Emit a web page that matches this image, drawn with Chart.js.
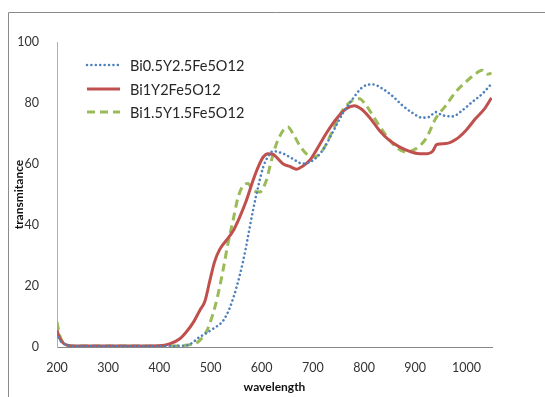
<!DOCTYPE html>
<html>
<head>
<meta charset="utf-8">
<script src="https://cdn.jsdelivr.net/npm/chart.js@4/dist/chart.umd.min.js"></script>
<style>
  html, body { margin: 0; padding: 0; background: #fff; }
  #wrap { width: 545px; height: 397px; position: relative; }
</style>
</head>
<body>
<div id="wrap"><canvas id="c" width="545" height="397"></canvas></div>
<script>
// ---- data ----
const seriesNames = ['Bi0.5Y2.5Fe5O12', 'Bi1Y2Fe5O12', 'Bi1.5Y1.5Fe5O12'];

const blueX = [200, 205, 212, 220, 235, 300, 400, 453, 479, 505, 525, 538, 551, 564, 573, 583, 593, 603, 612, 622, 642, 661, 680, 700, 719, 739, 758, 778, 797, 817, 836, 856, 875, 895, 914, 927, 940, 953, 973, 992, 1011, 1031, 1049];
const blueY = [4.5, 2.5, 1.2, 0.6, 0.3, 0.3, 0.3, 0.5, 3.3, 6, 8.7, 13, 19.7, 28.4, 36, 44.8, 52.5, 59, 62.3, 64.2, 63.4, 61.7, 60.1, 61.2, 64.5, 70.5, 76.5, 81.4, 85.2, 86.1, 84.7, 82.2, 79.2, 76.7, 75.2, 75.4, 77, 76, 75.6, 77.6, 80.3, 83, 86.3];

const redX = [200, 205, 212, 220, 235, 300, 400, 420, 440, 453, 466, 479, 489, 499, 508, 518, 531, 544, 557, 570, 583, 593, 603, 612, 622, 632, 642, 655, 668, 680, 694, 706, 726, 745, 765, 781, 794, 810, 830, 849, 869, 888, 908, 924, 934, 942, 960, 979, 999, 1018, 1034, 1049];
const redY = [5.5, 3, 1.3, 0.6, 0.3, 0.3, 0.4, 1, 2.7, 5, 8, 12, 15, 22, 28, 32, 35, 38, 42.6, 48, 54.6, 59, 62.3, 63.4, 63.2, 61.7, 60, 59.2, 58.3, 59.3, 61.2, 64.3, 70, 74.6, 78.1, 79.1, 78.1, 75.4, 71, 67.8, 65.6, 64.2, 63.4, 63.4, 64.2, 66.4, 66.7, 68, 71, 74.9, 77.8, 81.7];

const greenX = [200, 205, 212, 220, 235, 300, 400, 466, 479, 492, 505, 515, 525, 534, 544, 554, 564, 573, 583, 596, 609, 619, 629, 642, 651, 661, 674, 687, 703, 719, 739, 758, 778, 791, 804, 823, 843, 862, 882, 901, 921, 940, 960, 979, 999, 1018, 1031, 1040, 1049];
const greenY = [8.2, 4, 1.5, 0.6, 0.3, 0.3, 0.3, 0.9, 2.2, 5, 11, 17.5, 25.7, 33.9, 41.5, 49.2, 53, 53.6, 51.4, 50.8, 54.6, 61.2, 66.7, 71, 72.1, 70, 66.1, 63.4, 62.3, 64.5, 71, 77.6, 80.9, 81.4, 79.2, 74.3, 69.4, 65.6, 63.9, 65, 68.3, 74.9, 79.2, 83.6, 86.9, 89.6, 90.7, 89.4, 89.8];

const xTickValues = [200, 300, 400, 500, 600, 700, 800, 900, 1000];
const yTickValues = [0, 20, 40, 60, 80, 100];
const xTitle = 'wavelength';
const yTitle = 'transmitance';

// ---- styles ----
const colors = ['#4f81bd', '#c0504d', '#9bbb59'];
const pts = (xs, ys) => xs.map((x, i) => ({ x: x, y: ys[i] }));

const datasets = [
  { label: seriesNames[0], data: pts(blueX, blueY), borderColor: colors[0], borderWidth: 2.6, borderDash: [0.01, 4.4], borderCapStyle: 'round' },
  { label: seriesNames[1], data: pts(redX, redY), borderColor: colors[1], borderWidth: 3 },
  { label: seriesNames[2], data: pts(greenX, greenY), borderColor: colors[2], borderWidth: 3, borderDash: [8, 5] }
];
datasets.forEach(d => { d.pointRadius = 0; d.fill = false; d.cubicInterpolationMode = 'monotone'; });
const FONT = 'Lato, "Open Sans", "Liberation Sans", sans-serif';

const framePlugin = {
  id: 'frame',
  beforeDraw(chart) {
    const ctx = chart.ctx;
    ctx.save();
    ctx.fillStyle = '#fff';
    ctx.fillRect(0, 0, chart.width, chart.height);
    ctx.strokeStyle = '#8a8a8a';
    ctx.lineWidth = 1;
    ctx.beginPath();
    ctx.moveTo(8.5, chart.height);
    ctx.lineTo(8.5, 12.5);
    ctx.lineTo(chart.width, 12.5);
    ctx.stroke();
    ctx.restore();
  }
};

const legendPlugin = {
  id: 'innerLegend',
  afterDatasetsDraw(chart) {
    const ctx = chart.ctx;
    ctx.save();
    const x0 = 87, x1 = 120, tx = 130;
    const ys = [65, 89, 112];
    chart.data.datasets.forEach((d, i) => {
      ctx.beginPath();
      ctx.strokeStyle = d.borderColor;
      ctx.lineWidth = d.borderWidth;
      ctx.lineCap = d.borderCapStyle || 'butt';
      ctx.setLineDash(d.borderDash || []);
      ctx.moveTo(x0, ys[i]);
      ctx.lineTo(x1, ys[i]);
      ctx.stroke();
      ctx.setLineDash([]);
      ctx.fillStyle = '#262626';
      ctx.font = '14.5px ' + FONT;
      ctx.textBaseline = 'middle';
      ctx.textAlign = 'left';
      ctx.fillText(d.label, tx, ys[i] + 1);
    });
    ctx.restore();
  }
};

new Chart(document.getElementById('c'), {
  type: 'line',
  data: { datasets: datasets },
  options: {
    responsive: false,
    animation: false,
    layout: { padding: { left: 0, top: 42, right: 53, bottom: 0 } },
    plugins: { legend: { display: false }, tooltip: { enabled: false } },
    scales: {
      x: {
        type: 'linear', min: 200, max: 1050,
        afterBuildTicks: s => { s.ticks = xTickValues.map(v => ({ value: v })); },
        afterFit: s => { s.height = 50; },
        grid: { display: false },
        border: { display: true, color: '#868686', width: 1 },
        ticks: { padding: 5, color: '#333', font: { family: FONT, size: 12.5 }, maxRotation: 0, autoSkip: false, callback: v => String(v) },
        title: { display: true, text: xTitle, color: '#111', font: { family: FONT, size: 12, weight: 'bold' }, padding: { top: 0, bottom: 3 } }
      },
      y: {
        type: 'linear', min: 0, max: 100,
        afterBuildTicks: s => { s.ticks = yTickValues.map(v => ({ value: v })); },
        afterFit: s => { s.width = 57; },
        grid: { display: false },
        border: { display: true, color: '#b0b0b0', width: 1 },
        ticks: { padding: 10, color: '#333', font: { family: FONT, size: 12.5 }, callback: v => String(v) },
        title: { display: true, text: yTitle, color: '#111', font: { family: FONT, size: 12, weight: 'bold' }, padding: { top: 12, bottom: 0 } }
      }
    }
  },
  plugins: [framePlugin, legendPlugin]
});
</script>
</body>
</html>
